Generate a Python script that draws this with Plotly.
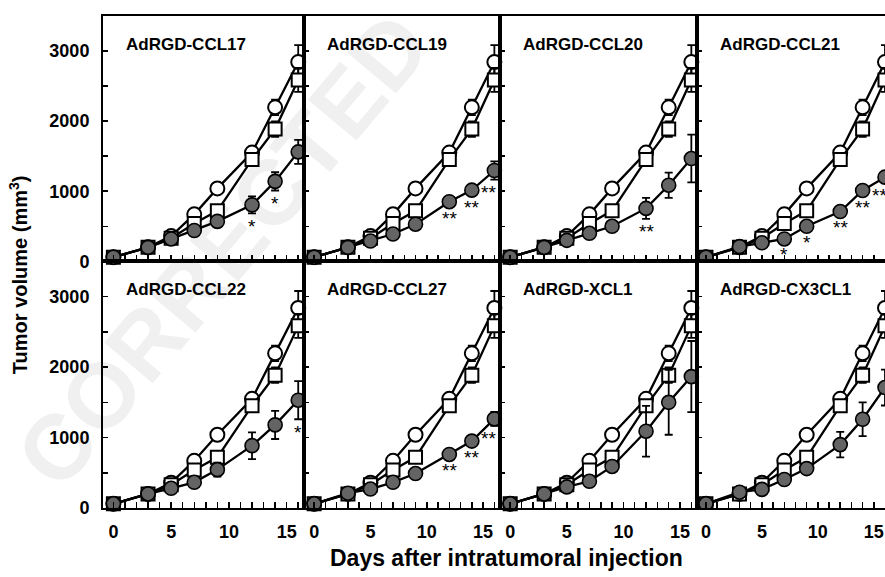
import plotly.graph_objects as go

# ---------------- data ----------------
days = [0, 3, 5, 7, 9, 12, 14, 16]

panel_titles = ["AdRGD-CCL17", "AdRGD-CCL19", "AdRGD-CCL20", "AdRGD-CCL21",
                "AdRGD-CCL22", "AdRGD-CCL27", "AdRGD-XCL1", "AdRGD-CX3CL1"]

# open circles (same control in every panel)
ctrl_circle = [60, 200, 360, 670, 1040, 1550, 2195, 2840]
ctrl_circle_err = [10, 20, 30, 50, 60, 70, 110, 240]
# open squares
ctrl_square = [60, 200, 330, 540, 720, 1450, 1885, 2585]
ctrl_square_err = [10, 20, 30, 40, 60, 70, 110, 170]

# filled circles, one series per panel
treat_ccl17 = [60, 200, 320, 440, 570, 805, 1140, 1560]
treat_ccl17_err = [10, 20, 30, 40, 50, 120, 130, 170]
treat_ccl19 = [60, 200, 290, 390, 530, 850, 1015, 1295]
treat_ccl19_err = [10, 20, 30, 30, 40, 50, 60, 130]
treat_ccl20 = [60, 200, 300, 400, 500, 755, 1085, 1465]
treat_ccl20_err = [10, 20, 30, 40, 50, 150, 180, 340]
treat_ccl21 = [60, 210, 265, 320, 500, 710, 1010, 1200]
treat_ccl21_err = [10, 20, 20, 30, 40, 40, 50, 80]
treat_ccl22 = [60, 200, 280, 365, 545, 885, 1180, 1530]
treat_ccl22_err = [10, 20, 30, 40, 100, 190, 200, 270]
treat_ccl27 = [60, 210, 270, 365, 490, 760, 950, 1265]
treat_ccl27_err = [10, 20, 20, 30, 40, 40, 50, 100]
treat_xcl1 = [60, 200, 300, 380, 590, 1090, 1500, 1865]
treat_xcl1_err = [10, 20, 30, 40, 80, 360, 460, 505]
treat_cx3cl1 = [60, 225, 265, 405, 560, 900, 1260, 1710]
treat_cx3cl1_err = [10, 20, 30, 40, 50, 180, 240, 255]

treat_values = [treat_ccl17, treat_ccl19, treat_ccl20, treat_ccl21,
                treat_ccl22, treat_ccl27, treat_xcl1, treat_cx3cl1]
treat_errors = [treat_ccl17_err, treat_ccl19_err, treat_ccl20_err, treat_ccl21_err,
                treat_ccl22_err, treat_ccl27_err, treat_xcl1_err, treat_cx3cl1_err]

# significance marks: {day: mark}
stars_ccl17 = {12: "*", 14: "*"}
stars_ccl19 = {12: "**", 14: "**", 16: "**"}
stars_ccl20 = {12: "**"}
stars_ccl21 = {7: "*", 9: "*", 12: "**", 14: "**", 16: "**"}
stars_ccl22 = {16: "*"}
stars_ccl27 = {12: "**", 14: "**", 16: "**"}
stars_xcl1 = {}
stars_cx3cl1 = {}
stars = [stars_ccl17, stars_ccl19, stars_ccl20, stars_ccl21,
         stars_ccl22, stars_ccl27, stars_xcl1, stars_cx3cl1]

y_tick_vals = [0, 1000, 2000, 3000]
y_tick_text = ["0", "1000", "2000", "3000"]
x_tick_vals = [0, 5, 10, 15]
x_tick_text = ["0", "5", "10", "15"]

# ---------------- layout geometry ----------------
W, H = 885, 577
col_edges = [103, 304, 500, 697, 885]
row_edges = [(16, 266), (266, 517)]  # pixel top/bottom per row
x_ranges = [[-0.9, 16.5], [-0.9, 16.5], [-0.9, 16.5], [-0.8, 16.0]]
y_range = [0, 3500]

FONT = "Liberation Sans, Arial, Helvetica, sans-serif"
GRAY = "#646464"

fig = go.Figure()
layout = {}
annotations = []

for k in range(8):
    r, c = divmod(k, 4)
    idx = k + 1
    xa = "x" if idx == 1 else f"x{idx}"
    ya = "y" if idx == 1 else f"y{idx}"
    clip = (c == 3)

    common = dict(xaxis=xa, yaxis=ya, mode="lines+markers", showlegend=False,
                  cliponaxis=clip, hoverinfo="skip")
    fig.add_trace(go.Scatter(
        x=days, y=ctrl_circle,
        error_y=dict(type="data", array=ctrl_circle_err, color="black", thickness=1.8, width=4),
        line=dict(color="black", width=2.3),
        marker=dict(symbol="circle", size=14, color="white", line=dict(color="black", width=2)),
        **common))
    fig.add_trace(go.Scatter(
        x=days, y=ctrl_square,
        error_y=dict(type="data", array=ctrl_square_err, color="black", thickness=1.8, width=4),
        line=dict(color="black", width=2.3),
        marker=dict(symbol="square", size=13, color="white", line=dict(color="black", width=2)),
        **common))
    fig.add_trace(go.Scatter(
        x=days, y=treat_values[k],
        error_y=dict(type="data", array=treat_errors[k], color="black", thickness=1.8, width=4),
        line=dict(color="black", width=2.3),
        marker=dict(symbol="circle", size=14, color=GRAY, line=dict(color="black", width=1.6)),
        **common))

    x0p, x1p = col_edges[c], col_edges[c + 1]
    top_px, bot_px = row_edges[r]

    layout["xaxis" if idx == 1 else f"xaxis{idx}"] = dict(
        domain=[x0p / W, x1p / W], anchor=ya, range=x_ranges[c],
        tickmode="array", tickvals=x_tick_vals, ticktext=x_tick_text,
        showticklabels=(r == 1),
        ticks="inside", ticklen=6, tickwidth=1.5, tickcolor="black",
        minor=dict(ticks="inside", ticklen=6, tickwidth=1.5, tickcolor="black",
                   tick0=0, dtick=1, showgrid=False),
        showline=True, linecolor="black", linewidth=2, mirror=True,
        showgrid=False, zeroline=False,
        tickfont=dict(family=FONT, size=18, color="black", weight="bold"),
        ticklabelstandoff=6,
    )
    layout["yaxis" if idx == 1 else f"yaxis{idx}"] = dict(
        domain=[(H - bot_px) / H, (H - top_px) / H], anchor=xa, range=y_range,
        tickmode="array", tickvals=y_tick_vals, ticktext=y_tick_text,
        showticklabels=(c == 0),
        ticks="inside", ticklen=5, tickwidth=1.5, tickcolor="black",
        minor=dict(ticks="inside", ticklen=5, tickwidth=1.5, tickcolor="black",
                   tick0=0, dtick=500, showgrid=False),
        showline=True, linecolor="black", linewidth=2, mirror=(c != 3),
        showgrid=False, zeroline=False,
        tickfont=dict(family=FONT, size=18, color="black", weight="bold"),
        ticklabelstandoff=8,
    )

    # panel title
    title_y_px = 45 if r == 0 else 295
    annotations.append(dict(
        text=panel_titles[k], xref="paper", yref="paper",
        x=(x0p + 21) / W, y=(H - title_y_px) / H, xanchor="left", yanchor="middle",
        showarrow=False, font=dict(family=FONT, size=17, color="black", weight="bold")))

    # significance marks
    for d, mark in stars[k].items():
        i = days.index(d)
        annotations.append(dict(
            text=mark, xref=xa, yref=ya, x=d, y=treat_values[k][i] - treat_errors[k][i],
            yshift=-13, xshift=(-6 if (d == 16 and len(mark) == 2) else 0),
            xanchor="center", yanchor="middle", showarrow=False,
            font=dict(family=FONT, size=19, color="black")))

# axis titles
annotations.append(dict(
    text="Tumor volume (mm<sup>3</sup>)", xref="paper", yref="paper",
    x=18 / W, y=(H - 280) / H, xanchor="center", yanchor="middle", textangle=-90,
    showarrow=False, font=dict(family=FONT, size=20, color="black", weight="bold")))
annotations.append(dict(
    text="Days after intratumoral injection", xref="paper", yref="paper",
    x=506 / W, y=(H - 568) / H, xanchor="center", yanchor="middle",
    showarrow=False, font=dict(family=FONT, size=23, color="black", weight="bold")))

# faint diagonal watermark drawn beneath the data
shapes = [dict(
    type="line", xref="paper", yref="paper", layer="below",
    x0=60 / W, y0=(H - 520) / H, x1=450 / W, y1=(H - 50) / H,
    line=dict(color="rgba(0,0,0,0)", width=0),
    label=dict(text="CORRECTED", textangle=-50, textposition="middle",
               font=dict(family=FONT, size=92, color="#f0f0f0", weight="bold")))]

fig.update_layout(
    width=W, height=H,
    margin=dict(l=0, r=0, t=0, b=0),
    paper_bgcolor="white", plot_bgcolor="rgba(0,0,0,0)",
    font=dict(family=FONT, color="black"),
    annotations=annotations, shapes=shapes,
    hovermode=False, dragmode=False,
    **layout,
)

fig.write_html("out.html", config={"displayModeBar": False, "staticPlot": True},
               post_script="document.body.style.margin='0px';document.body.style.overflow='hidden';")
